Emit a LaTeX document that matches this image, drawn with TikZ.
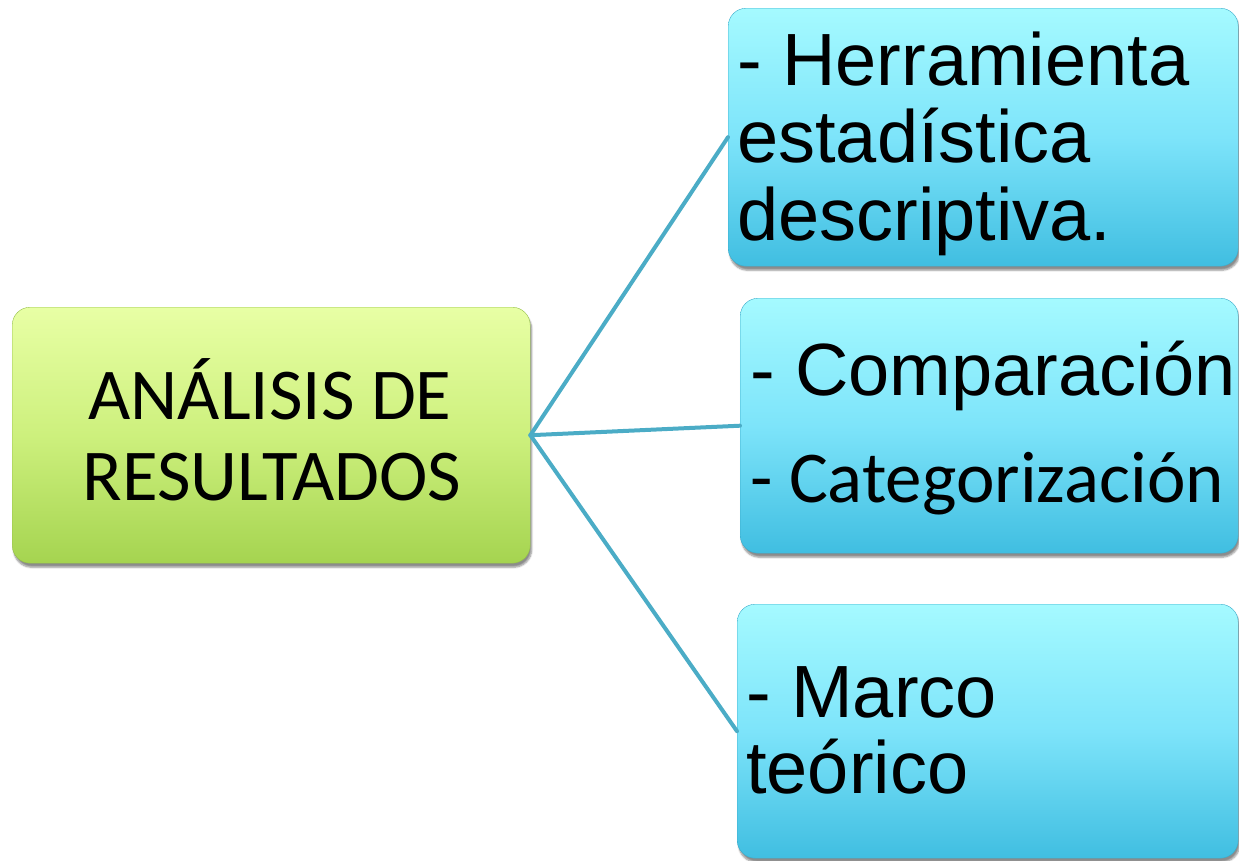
\documentclass[tikz,border=0pt]{standalone}
\usepackage{fontspec}
\newfontfamily\arialf{Liberation Sans}
\newfontfamily\calibrif{Carlito}
\usetikzlibrary{shadows.blur}
\definecolor{gtop}{RGB}{232,255,165}
\definecolor{gmid}{RGB}{205,240,125}
\definecolor{gbot}{RGB}{165,212,80}
\definecolor{btop}{RGB}{165,250,255}
\definecolor{bmid}{RGB}{125,228,250}
\definecolor{bbot}{RGB}{64,190,225}
\definecolor{conn}{RGB}{75,172,198}
\tikzset{
  x=1pt, y=-1pt,
  boxbase/.style={rectangle, rounded corners=18pt, inner sep=0pt, anchor=north west,
     blur shadow={shadow xshift=1.5pt, shadow yshift=-4pt, shadow blur steps=6, shadow opacity=45}},
  greenbox/.style={boxbase, top color=gtop, bottom color=gbot, middle color=gmid, draw=gbot!90!black, line width=0.4pt},
  bluebox/.style={boxbase, top color=btop, bottom color=bbot, middle color=bmid, draw=bbot!90!black, line width=0.4pt},
  connector/.style={draw=conn, line width=4pt, line cap=round, line join=round},
  arialtxt/.style={anchor=base west, inner sep=0pt, font=\arialf\fontsize{74}{78}\selectfont},
  calitxt/.style={anchor=base, inner sep=0pt, font=\calibrif\fontsize{73}{81}\selectfont},
}
\begin{document}
\begin{tikzpicture}
\useasboundingbox (0,0) rectangle (1239,860);
% boxes
\node[greenbox, minimum width=518pt, minimum height=256pt] (g) at (12,307) {};
\node[bluebox, minimum width=510pt, minimum height=258pt] (b1) at (728,8) {};
\node[bluebox, minimum width=498pt, minimum height=255pt] (b2) at (740,298) {};
\node[bluebox, minimum width=501pt, minimum height=254pt] (b3) at (737,604) {};
% connectors
\draw[connector] (g.east) -- (b1.west);
\draw[connector] (g.east) -- (b2.west);
\draw[connector] (g.east) -- (b3.west);
% texts
\node[calitxt] (g1) at (270,419) {ANÁLISIS DE};
\node[calitxt] (g2) at (272,500) {RESULTADOS};
\node[arialtxt] (t11) at (737,85) {- Herramienta};
\node[arialtxt] (t12) at (737,162) {estadística};
\node[arialtxt] (t13) at (737,240) {descriptiva.};
\node[arialtxt] (t21) at (750,395) {- Comparación};
\node[calitxt, anchor=base west] (t22) at (750,502) {- Categorización};
\node[arialtxt] (t31) at (746,717) {- Marco};
\node[arialtxt] (t32) at (746,793) {teórico};
\end{tikzpicture}
\end{document}
